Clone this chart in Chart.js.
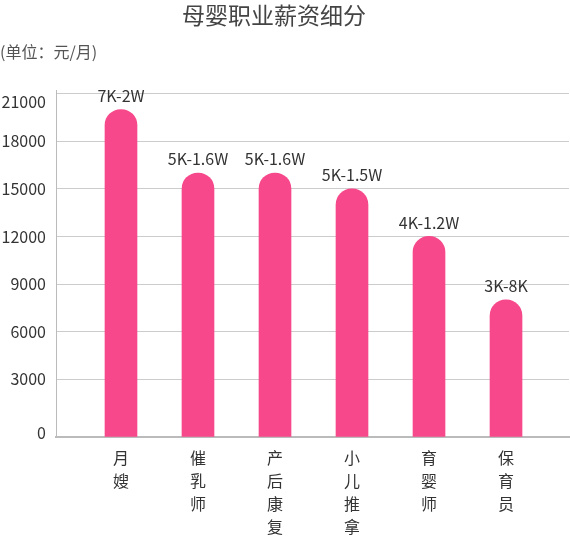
<!DOCTYPE html>
<html>
<head>
<meta charset="utf-8">
<script src="https://cdn.jsdelivr.net/npm/chart.js@4.4.1/dist/chart.umd.min.js"></script>
<style>
html, body { margin: 0; padding: 0; background: #fff; }
#wrap { width: 570px; height: 539px; position: relative; }
</style>
</head>
<body>
<div id="wrap"><canvas id="barChart"></canvas></div>
<script>
// chart data
var categories = ["月嫂", "催乳师", "产后康复", "小儿推拿", "育婴师", "保育员"];
var salaryTop = [20000, 16000, 16000, 15000, 12000, 8000];
var rangeLabels = ["7K-2W", "5K-1.6W", "5K-1.6W", "5K-1.5W", "4K-1.2W", "3K-8K"];
var yTicks = [0, 3000, 6000, 9000, 12000, 15000, 18000, 21000];
var titleText = "母婴职业薪资细分";
var unitText = "(单位：元/月)";

// axis range (the "0" tick sits on the axis line, a bit below real zero)
var Y_MIN = -640;
var Y_MAX = 21230;
var X_MIN = -0.844;
var X_MAX = 5.818;

var FONT = '"Noto Sans CJK SC", "Noto Sans", sans-serif';

//title and unit text
var headerPlugin = {
    id: "header",
    afterDraw: function (chart) {
        var ctx = chart.ctx;
        ctx.save();
        ctx.fillStyle = "#444";
        ctx.font = "23px " + FONT;
        ctx.textAlign = "center";
        ctx.textBaseline = "middle";
        ctx.fillText(titleText, 274, 15);
        ctx.fillStyle = "#555";
        ctx.font = "16px " + FONT;
        ctx.textAlign = "left";
        ctx.fillText(unitText, 0, 52);
        ctx.restore();
    }
};

//range text above each bar
var barLabelPlugin = {
    id: "barLabels",
    afterDatasetsDraw: function (chart) {
        var ctx = chart.ctx;
        var meta = chart.getDatasetMeta(0);
        ctx.save();
        ctx.font = "16px " + FONT;
        ctx.fillStyle = "#333";
        ctx.textAlign = "center";
        ctx.textBaseline = "bottom";
        meta.data.forEach(function (bar, i) {
            ctx.fillText(rangeLabels[i], bar.x, bar.y - 6);
        });
        ctx.restore();
    }
};

var points = salaryTop.map(function (v, i) {
    return { x: i, y: v };
});

var chart1 = new Chart(document.getElementById("barChart"), {
    type: "bar",
    data: {
        datasets: [
            {
                label: "薪资",
                data: points,
                base: Y_MIN,
                backgroundColor: "#f6488a",
                borderWidth: 0,
                borderRadius: { topLeft: 16, topRight: 16, bottomLeft: 0, bottomRight: 0 },
                borderSkipped: false,
                barThickness: 32
            }
        ]
    },
    options: {
        responsive: true,
        maintainAspectRatio: false,
        animation: false,
        layout: { padding: { top: 90, right: 1, left: 0, bottom: 0 } },
        plugins: {
            legend: { display: false },
            title: { display: false },
            tooltip: { enabled: false }
        },
        scales: {
            x: {
                type: "linear",
                offset: false,
                min: X_MIN,
                max: X_MAX,
                afterBuildTicks: function (scale) {
                    scale.ticks = categories.map(function (c, i) { return { value: i }; });
                },
                afterFit: function (scale) { scale.height = 102; },
                grid: { display: false, offset: false },
                border: { display: true, color: "#bbb", width: 2 },
                ticks: {
                    autoSkip: false,
                    maxRotation: 0,
                    padding: 1,
                    color: "#333",
                    font: { family: FONT, size: 16, lineHeight: 1.44 },
                    callback: function (value) {
                        return categories[value] ? categories[value].split("") : "";
                    }
                }
            },
            y: {
                min: Y_MIN,
                max: Y_MAX,
                afterBuildTicks: function (scale) {
                    scale.ticks = yTicks.map(function (v) { return { value: v === 0 ? Y_MIN : v }; });
                },
                afterFit: function (scale) { scale.width = 56; },
                grid: { color: "#ccc", lineWidth: 1, drawTicks: false },
                border: { display: true, color: "#bbb", width: 1 },
                ticks: {
                    padding: 10,
                    color: "#333",
                    // end labels are nudged inward, as in the original
                    font: function (c) {
                        var v = c.tick ? c.tick.value : 0;
                        if (v >= 21000) return { family: FONT, size: 16, lineHeight: 1.0 };
                        if (v <= 0) return { family: FONT, size: 16, lineHeight: 0.5 };
                        return { family: FONT, size: 16 };
                    },
                    callback: function (value) {
                        if (value <= 0) return ["0", ""];
                        if (value >= 21000) return ["", String(value)];
                        return String(value);
                    }
                }
            }
        }
    },
    plugins: [headerPlugin, barLabelPlugin]
});
</script>
</body>
</html>
